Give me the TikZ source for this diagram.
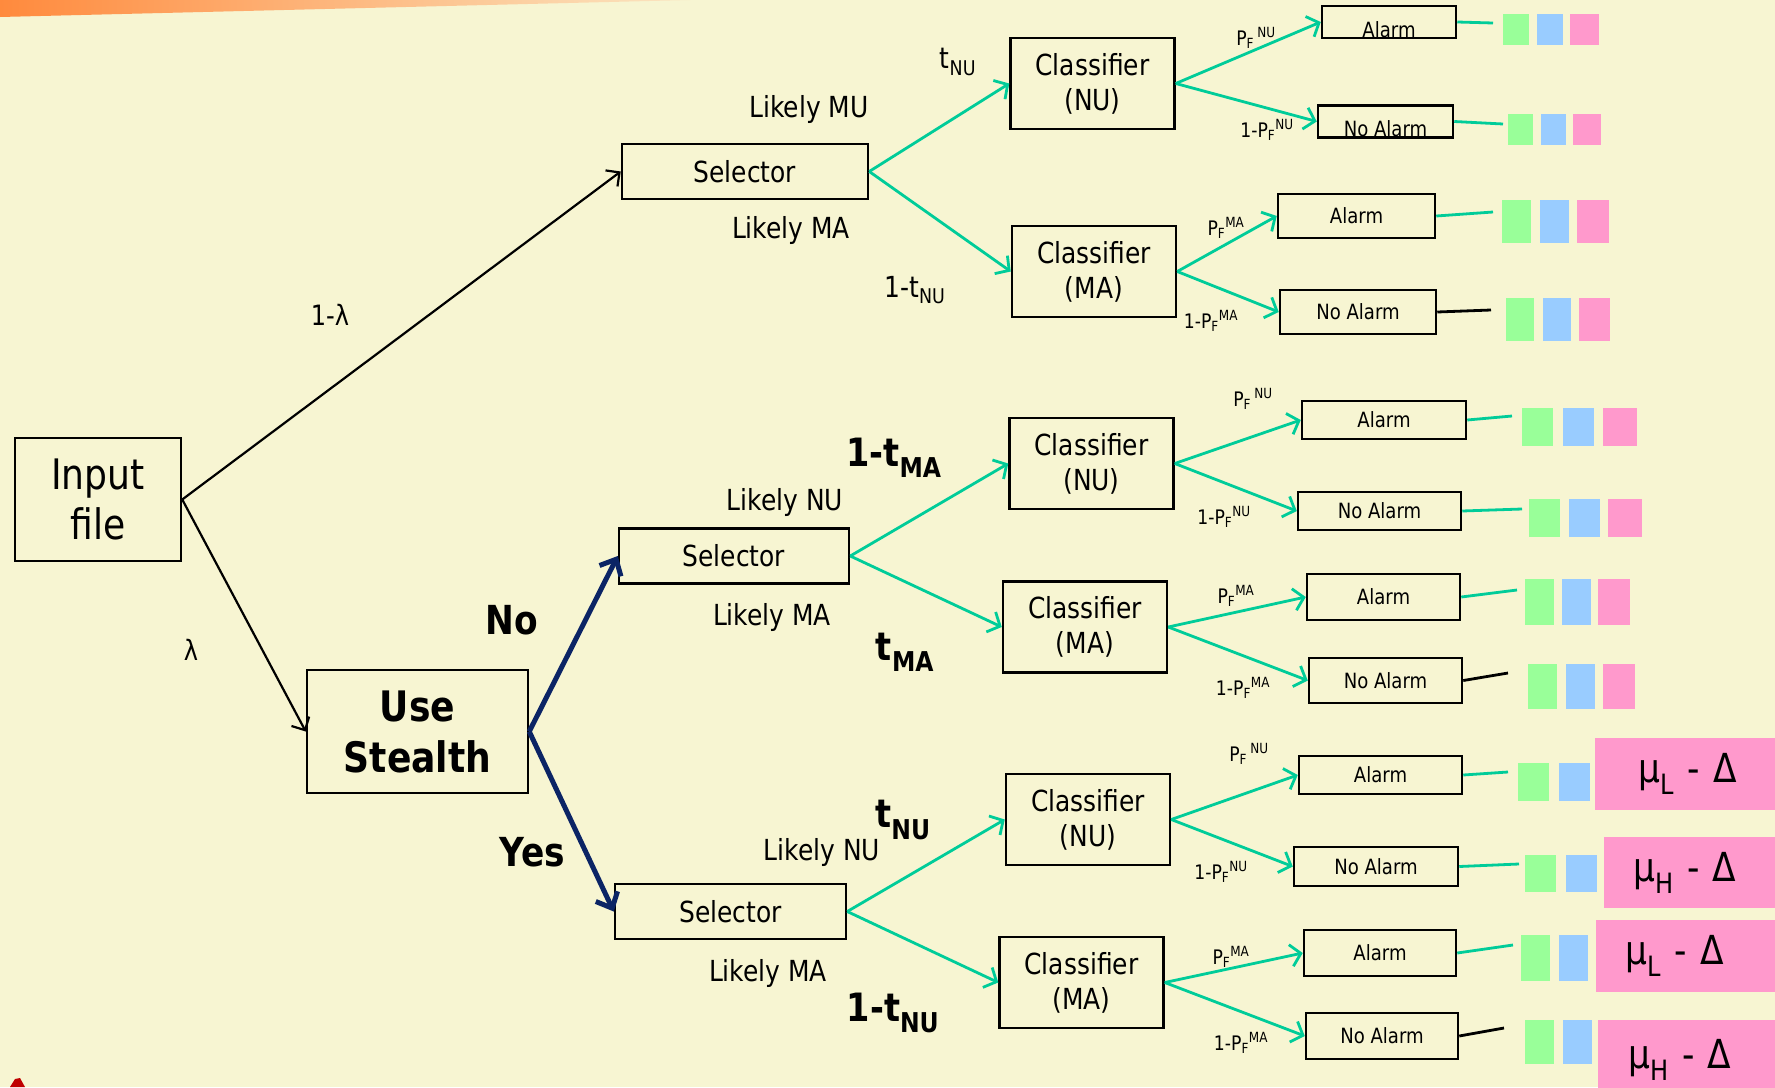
\documentclass[tikz,border=0pt]{standalone}
\usepackage{fontspec}
\setmainfont{DejaVu Sans}[FakeStretch=0.86]
\usetikzlibrary{arrows.meta,positioning}
\definecolor{slideBg}{HTML}{F7F5D2}
\definecolor{slideOrange}{HTML}{FF8A3D}
\definecolor{slidePeach}{HTML}{FBE6C2}
\definecolor{branchGreen}{HTML}{00CC99}
\definecolor{stealthNavy}{HTML}{0B2465}
\definecolor{swGreen}{HTML}{99FF99}
\definecolor{swBlue}{HTML}{99CCFF}
\definecolor{swPink}{HTML}{FF99CC}
\newcommand{\pfst}[1]{P\textsubscript{F}\textsuperscript{#1}}
\newcommand{\pfsp}[1]{P\textsubscript{F}\,\textsuperscript{#1}}

\begin{document}
\begin{tikzpicture}[x=1pt, y=-1pt,
        box/.style={draw, line width=2.5pt, align=center, inner sep=0pt},
        selectorbox/.style={box, minimum height=55pt, font=\fontsize{29}{35}\selectfont},
        classbox/.style={box, minimum width=164pt, minimum height=91pt, font=\fontsize{29}{35}\selectfont},
        alarmbox/.style={box, font=\fontsize{21}{25}\selectfont},
        lowalarm/.style={alarmbox, text height=30pt, text depth=0pt, inner ysep=1pt},
        bigbox/.style={box, minimum height=123pt, font=\fontsize{42}{50}\selectfont},
        lbl/.style={font=\fontsize{29}{35}\selectfont},
        plbl/.style={font=\fontsize{20}{24}\selectfont, inner sep=1pt},
        boldlbl/.style={font=\fontsize{39}{46}\selectfont\bfseries},
        swatch/.style={inner sep=0pt},
        mubox/.style={fill=swPink, anchor=west, inner ysep=0pt, text width=150pt, align=left, font=\fontsize{40}{48}\selectfont},
        branch/.style={-{Straight Barb[length=10pt,width=22pt]}, draw=branchGreen, line width=2.8pt},
        tail/.style={draw=branchGreen, line width=2.8pt},
        inarrow/.style={-{Straight Barb[length=10pt,width=20pt]}, line width=2.2pt},
        yesno/.style={-{Straight Barb[length=13pt,width=24pt]}, draw=stealthNavy, line width=5pt}
    ]
    \fill[slideBg] (0,0) rectangle (1775,1087);
    \useasboundingbox (0,0) rectangle (1775,1087);
    \shade[left color=slideOrange, right color=slidePeach] (0,0) -- (690,0) -- (0,17) -- cycle;
    \fill[red!75!black] (10,1087) -- (15,1079) -- (20,1078) -- (25,1087) -- cycle;

    % left part
    \node[bigbox, minimum width=166pt] (input) at (98,499.5) {Input\\file};
    \node[bigbox, minimum width=221pt, font=\fontsize{42}{51}\selectfont\bfseries] (stealth) at (417.5,731.5) {Use\\Stealth};

    \node[selectorbox, minimum width=246pt] (selectorTop) at (745,171.5) {Selector};
    \node[selectorbox, minimum width=230pt] (selectorNo) at (734,556) {Selector};
    \node[selectorbox, minimum width=231pt] (selectorYes) at (730.5,911.5) {Selector};

    \draw[inarrow] (input.east) -- (selectorTop.west);
    \draw[inarrow] (input.east) -- (stealth.west);
    \draw[yesno] (stealth.east) -- (selectorNo.west);
    \draw[yesno] (stealth.east) -- (selectorYes.west);

    \node[lbl, font=\fontsize{28}{34}\selectfont] (oneminuslambda) at (330,315) {1-λ};
    \node[lbl, font=\fontsize{28}{34}\selectfont] (lambda) at (191,650) {λ};
    \node[boldlbl, font=\fontsize{40}{48}\selectfont\bfseries] (no) at (512,620) {No};
    \node[boldlbl, font=\fontsize{40}{48}\selectfont\bfseries] (yes) at (532,852) {Yes};

    % classifiers
    \node[classbox] (nuTop) at (1092.5,83.5) {Classifier\\(NU)};
    \node[classbox] (maTop) at (1094,271.5) {Classifier\\(MA)};
    \node[classbox] (nuNo) at (1091.5,463.5) {Classifier\\(NU)};
    \node[classbox] (maNo) at (1085,627) {Classifier\\(MA)};
    \node[classbox] (nuYes) at (1088,819.5) {Classifier\\(NU)};
    \node[classbox] (maYes) at (1081.5,982.5) {Classifier\\(MA)};

    \draw[branch] (selectorTop.east) -- (nuTop.west);
    \draw[branch] (selectorTop.east) -- (maTop.west);
    \draw[branch] (selectorNo.east) -- (nuNo.west);
    \draw[branch] (selectorNo.east) -- (maNo.west);
    \draw[branch] (selectorYes.east) -- (nuYes.west);
    \draw[branch] (selectorYes.east) -- (maYes.west);

    \node[lbl] (likelyMU) at (809,109) {Likely MU};
    \node[lbl] (likelyMAtop) at (791,230) {Likely MA};
    \node[lbl] (tnuTop) at (958,62) {t\textsubscript{NU}};
    \node[lbl] (onetnuTop) at (915,290) {1-t\textsubscript{NU}};
    \node[lbl] (likelyNUno) at (785,502) {Likely NU};
    \node[lbl] (likelyMAno) at (772,617) {Likely MA};
    \node[boldlbl] (onetma) at (894,458) {1-t\textsubscript{MA}};
    \node[boldlbl] (tma) at (905,652) {t\textsubscript{MA}};
    \node[lbl] (likelyNUyes) at (822,852) {Likely NU};
    \node[lbl] (likelyMAyes) at (768,973) {Likely MA};
    \node[boldlbl] (tnuYes) at (903,820) {t\textsubscript{NU}};
    \node[boldlbl] (onetnuYes) at (893,1013) {1-t\textsubscript{NU}};

    % alarm boxes
    \node[lowalarm, minimum width=134pt] (alarm1) at (1389,22) {Alarm};
    \node[lowalarm, minimum width=135pt] (noalarm1) at (1385.5,121.5) {No Alarm};
    \node[alarmbox, minimum width=157pt, minimum height=44pt] (alarm2) at (1356.5,216) {Alarm};
    \node[alarmbox, minimum width=156pt, minimum height=44pt] (noalarm2) at (1358,312) {No Alarm};
    \node[alarmbox, minimum width=164pt, minimum height=38pt] (alarm3) at (1384,420) {Alarm};
    \node[alarmbox, minimum width=163pt, minimum height=38pt] (noalarm3) at (1379.5,511) {No Alarm};
    \node[alarmbox, minimum width=153pt, minimum height=46pt] (alarm4) at (1383.5,597) {Alarm};
    \node[alarmbox, minimum width=153pt, minimum height=45pt] (noalarm4) at (1385.5,680.5) {No Alarm};
    \node[alarmbox, minimum width=163pt, minimum height=38pt] (alarm5) at (1380.5,775) {Alarm};
    \node[alarmbox, minimum width=164pt, minimum height=39pt] (noalarm5) at (1376,866.5) {No Alarm};
    \node[alarmbox, minimum width=152pt, minimum height=46pt] (alarm6) at (1380,953) {Alarm};
    \node[alarmbox, minimum width=152pt, minimum height=46pt] (noalarm6) at (1382,1036) {No Alarm};

    \draw[branch] (nuTop.east) -- (alarm1.west);
    \draw[branch] (nuTop.east) -- (noalarm1.west);
    \draw[branch] (maTop.east) -- (alarm2.west);
    \draw[branch] (maTop.east) -- (noalarm2.west);
    \draw[branch] (nuNo.east) -- (alarm3.west);
    \draw[branch] (nuNo.east) -- (noalarm3.west);
    \draw[branch] (maNo.east) -- (alarm4.west);
    \draw[branch] (maNo.east) -- (noalarm4.west);
    \draw[branch] (nuYes.east) -- (alarm5.west);
    \draw[branch] (nuYes.east) -- (noalarm5.west);
    \draw[branch] (maYes.east) -- (alarm6.west);
    \draw[branch] (maYes.east) -- (noalarm6.west);

    \node[plbl] (pfnu1) at (1256,38) {\pfsp{NU}};
    \node[plbl] (qfnu1) at (1267,130) {1-\pfst{NU}};
    \node[plbl] (pfma1) at (1226,228) {\pfst{MA}};
    \node[plbl] (qfma1) at (1211,321) {1-\pfst{MA}};
    \node[plbl] (pfnu2) at (1253,399) {\pfsp{NU}};
    \node[plbl] (qfnu2) at (1224,517) {1-\pfst{NU}};
    \node[plbl] (pfma2) at (1236,596) {\pfst{MA}};
    \node[plbl] (qfma2) at (1243,688) {1-\pfst{MA}};
    \node[plbl] (pfnu3) at (1249,754) {\pfsp{NU}};
    \node[plbl] (qfnu3) at (1221,872) {1-\pfst{NU}};
    \node[plbl] (pfma3) at (1231,957) {\pfst{MA}};
    \node[plbl] (qfma3) at (1241,1043) {1-\pfst{MA}};

    % outcome swatches
    \foreach \r/\x/\y/\w/\h/\g in {1/1503/29.5/26/31/7, 2/1508/129.5/25/31/7, 3/1502/221.5/29/43/8, 4/1506/319.5/28/43/8,
            5/1522/427/31/38/9, 6/1529/518/31/38/8, 7/1525/602/29/46/7, 8/1528/686.5/29/45/8} {
        \node[swatch, fill=swGreen, minimum width=\w pt, minimum height=\h pt, anchor=west] (g\r) at (\x,\y) {};
        \node[swatch, fill=swBlue, minimum width=\w pt, minimum height=\h pt, right=\g pt of g\r] (b\r) {};
        \node[swatch, fill=swPink, minimum width={\w pt+3pt}, minimum height=\h pt, right=\g pt of b\r] (p\r) {};
    }
    \foreach \r/\x/\y/\w/\h/\g in {9/1518/782/31/38/9, 10/1525/873.5/31/37/9, 11/1521/958/29/46/8, 12/1525/1042/29/44/8} {
        \node[swatch, fill=swGreen, minimum width=\w pt, minimum height=\h pt, anchor=west] (g\r) at (\x,\y) {};
        \node[swatch, fill=swBlue, minimum width=\w pt, minimum height=\h pt, right=\g pt of g\r] (b\r) {};
    }
    \node[mubox, minimum height=72pt, inner xsep=43pt] (muA) at (1595,774) {μ\textsubscript{L} - Δ};
    \node[mubox, minimum height=71pt, inner xsep=29pt] (muB) at (1604,872.5) {μ\textsubscript{H} - Δ};
    \node[mubox, minimum height=72pt, inner xsep=29pt] (muC) at (1596,956) {μ\textsubscript{L} - Δ};
    \node[mubox, minimum height=80pt, inner xsep=30pt] (muD) at (1598,1060) {μ\textsubscript{H} - Δ};

    \foreach \r/\x/\y in {1/1493/23, 2/1503/124, 3/1493/212, 4/1491/310, 5/1512/416, 6/1522/509,
            7/1517/590, 8/1508/673, 9/1508/772, 10/1519/864, 11/1513/945, 12/1504/1028}
        \coordinate (end\r) at (\x,\y);
    \foreach \n/\r/\c in {alarm1/1/branchGreen, noalarm1/2/branchGreen, alarm2/3/branchGreen, noalarm2/4/black,
            alarm3/5/branchGreen, noalarm3/6/branchGreen, alarm4/7/branchGreen, noalarm4/8/black,
            alarm5/9/branchGreen, noalarm5/10/branchGreen, alarm6/11/branchGreen, noalarm6/12/black}
        \draw[tail, draw=\c] (\n.east) -- (end\r);
\end{tikzpicture}
\end{document}
